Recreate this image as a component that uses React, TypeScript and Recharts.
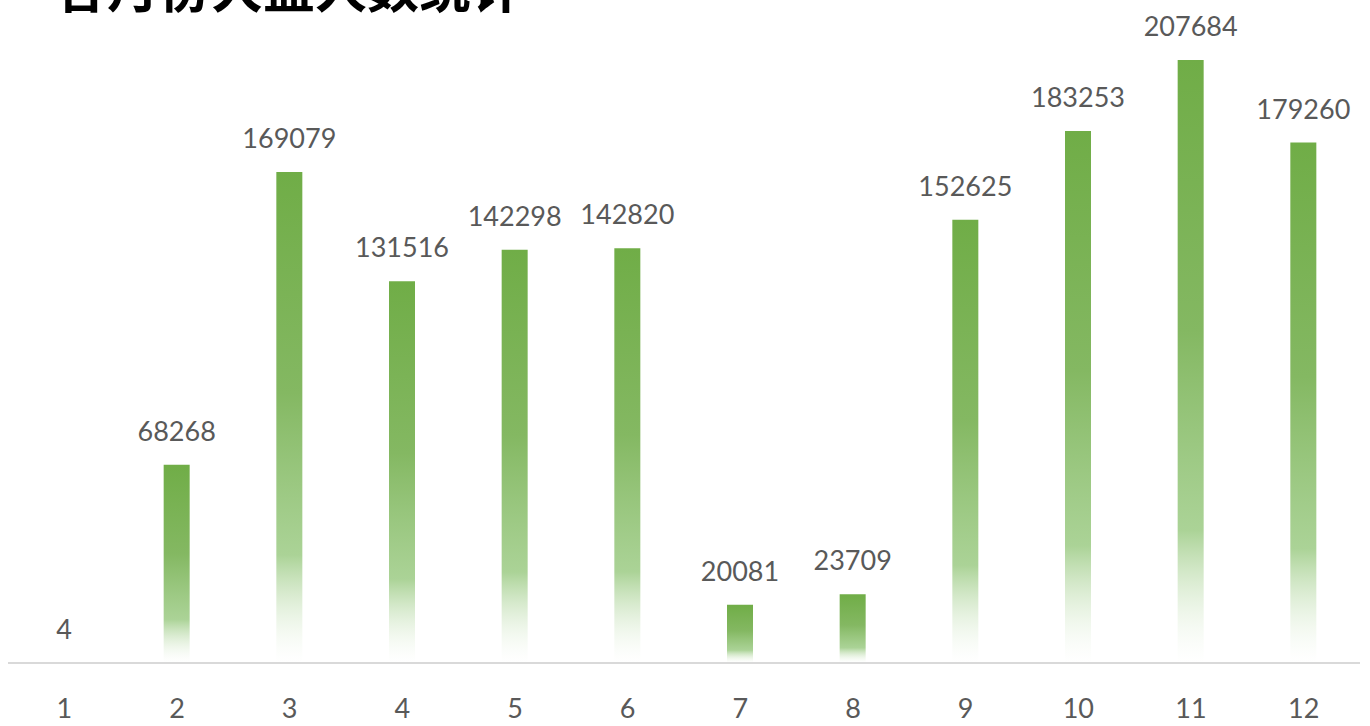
import React from 'react'
import { BarChart, Bar, XAxis, YAxis, LabelList } from 'recharts'

const months = ['1', '2', '3', '4', '5', '6', '7', '8', '9', '10', '11', '12']
const visitors = [4, 68268, 169079, 131516, 142298, 142820, 20081, 23709, 152625, 183253, 207684, 179260]

const title = '各月份大盘人数统计'

const data = months.map((m, i) => ({ month: m, value: visitors[i] }))

export default function App() {
  return (
    <div style={{ position: 'absolute', left: 0, top: 0, width: 1370, height: 726, overflow: 'hidden', background: '#fff' }}>
      <BarChart width={1370} height={726} data={data} margin={{ top: 60, right: 10, bottom: 0, left: 8 }}>
        <defs>
          <linearGradient id="barFade" x1="0" y1="0" x2="0" y2="1">
            <stop offset="0%" stopColor="#70ad47" stopOpacity={1} />
            <stop offset="45%" stopColor="#84b862" stopOpacity={1} />
            <stop offset="78%" stopColor="#9ccb84" stopOpacity={0.85} />
            <stop offset="100%" stopColor="#ffffff" stopOpacity={0.2} />
          </linearGradient>
        </defs>
        <XAxis
          dataKey="month"
          height={63}
          tickLine={false}
          axisLine={{ stroke: '#d9d9d9', strokeWidth: 2 }}
          tickMargin={30}
          tick={{ fill: '#595959', fontSize: 27, fontFamily: 'Lato, sans-serif' }}
          interval={0}
        />
        <YAxis hide domain={[0, 'dataMax']} />
        <Bar dataKey="value" fill="url(#barFade)" barSize={26} isAnimationActive={false}>
          <LabelList
            dataKey="value"
            position="top"
            offset={24}
            fill="#595959"
            fontSize={27}
            fontFamily="Lato, sans-serif"
          />
        </Bar>
      </BarChart>
      <div
        style={{
          position: 'absolute',
          left: 55,
          top: -40,
          fontSize: 52,
          lineHeight: 1,
          fontWeight: 'bold',
          fontFamily: '"Noto Sans CJK SC", sans-serif',
          color: '#000',
          whiteSpace: 'nowrap',
        }}
      >
        {title}
      </div>
    </div>
  )
}
